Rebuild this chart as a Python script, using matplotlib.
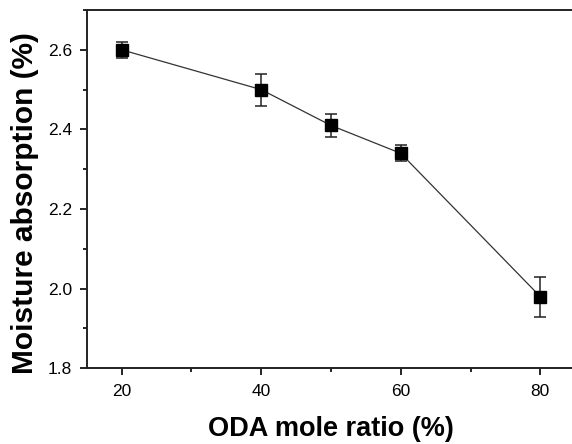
import matplotlib
matplotlib.use('Agg')
import matplotlib.pyplot as plt
from matplotlib.ticker import MultipleLocator

plt.rcParams['font.family'] = ['Liberation Sans', 'DejaVu Sans']

# ODA mole ratio (%) vs moisture absorption (%)
oda_ratio = [20, 40, 50, 60, 80]
moisture = [2.60, 2.50, 2.41, 2.34, 1.98]
moisture_err = [0.02, 0.04, 0.03, 0.02, 0.05]

fig = plt.figure(figsize=(5.72, 4.44), dpi=100)
ax = fig.add_axes([0.1516, 0.1705, 0.854, 0.807])

ax.errorbar(oda_ratio, moisture, yerr=moisture_err, color='#333333', lw=0.9,
            marker='s', markersize=8.5, markerfacecolor='black',
            markeredgecolor='black', ecolor='#222222', elinewidth=1.1,
            capsize=4, capthick=1.1)

ax.set_xlim(15, 85)
ax.set_ylim(1.8, 2.7)
ax.xaxis.set_major_locator(MultipleLocator(20))
ax.xaxis.set_minor_locator(MultipleLocator(10))
ax.yaxis.set_major_locator(MultipleLocator(0.2))
ax.yaxis.set_minor_locator(MultipleLocator(0.1))
ax.yaxis.set_major_formatter(plt.FormatStrFormatter('%.1f'))

for s in ax.spines.values():
    s.set_linewidth(1.4)
    s.set_color('#222222')
ax.tick_params(which='major', direction='out', length=5, width=1.2,
               labelsize=12.5)
ax.tick_params(axis='y', which='major', pad=5.5)
ax.tick_params(axis='x', which='major', pad=6)
ax.tick_params(which='minor', direction='out', length=3, width=1.2)

ax.set_xlabel('ODA mole ratio (%)', fontsize=19.5, fontweight='bold')
ax.set_ylabel('Moisture absorption (%)', fontsize=21.5, fontweight='bold')
ax.xaxis.set_label_coords(0.5, -0.133)
ax.yaxis.set_label_coords(-0.098, 0.461)

fig.savefig('out.png', dpi=100)
